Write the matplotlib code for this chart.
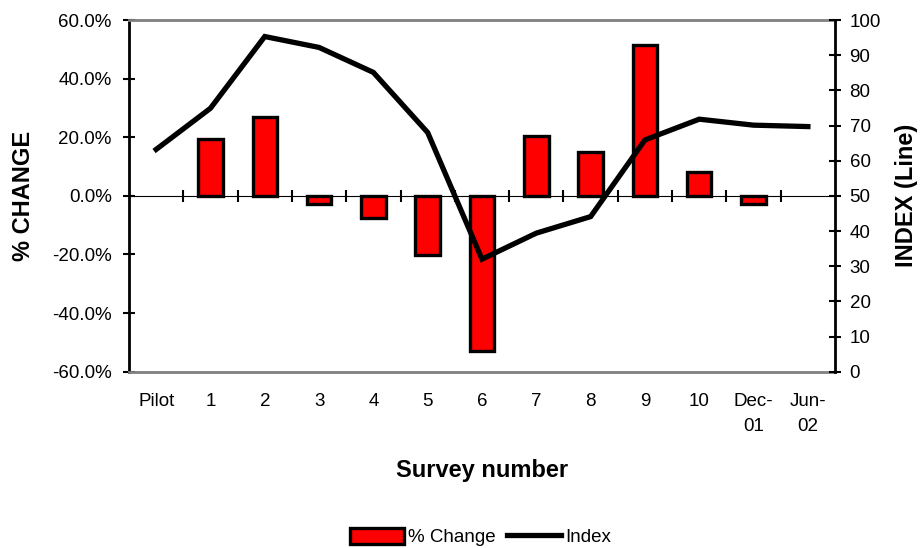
import matplotlib
matplotlib.use("Agg")
import matplotlib.pyplot as plt
from matplotlib.ticker import FixedLocator, FuncFormatter
from matplotlib.patches import Patch
from matplotlib.lines import Line2D
import numpy as np

plt.rcParams['font.family'] = ['Liberation Sans', 'DejaVu Sans']
plt.rcParams['axes.unicode_minus'] = False

# Survey data
surveys = ["Pilot", "1", "2", "3", "4", "5", "6", "7", "8", "9", "10", "Dec-\n01", "Jun-\n02"]
pct_change = [0.0, 19.3, 26.9, -2.7, -7.4, -20.1, -52.9, 20.5, 14.8, 51.4, 8.3, -2.7, 0.0]
index_values = [63.2, 74.9, 95.3, 92.2, 85.1, 68.0, 32.0, 39.4, 44.1, 65.9, 71.8, 70.1, 69.7]
pct_ticks = [-60, -40, -20, 0, 20, 40, 60]
index_ticks = list(range(0, 101, 10))

TICK_FS = 13.5
LABEL_FS = 17

fig = plt.figure(figsize=(9.24, 5.48), dpi=100)
ax = fig.add_axes([0.1396, 0.3217, 0.7641, 0.6418])
x = np.arange(len(surveys))

# bars with no change draw no outline
edge_w = [2.4 if v != 0 else 0 for v in pct_change]
ax.bar(x, pct_change, width=0.45, color="#ff0000", edgecolor="black", linewidth=edge_w, zorder=3)
ax.set_xlim(-0.5, len(surveys) - 0.5)
ax.set_ylim(-60, 60)
ax.yaxis.set_major_locator(FixedLocator(pct_ticks))
ax.yaxis.set_major_formatter(FuncFormatter(lambda v, p: f"{v:.1f}%"))
ax.tick_params(axis='y', direction='inout', length=9, width=1.5, labelsize=TICK_FS, pad=8)
ax.set_xticks(x)
ax.set_xticklabels(surveys)
ax.tick_params(axis='x', length=0, labelsize=TICK_FS, pad=15)
for lbl in ax.get_xticklabels():
    lbl.set_linespacing(1.65)
    lbl.set_verticalalignment('top')

for side in ('top', 'bottom'):
    ax.spines[side].set_color('#808080')
    ax.spines[side].set_linewidth(2)
ax.spines['left'].set_linewidth(2)
ax.spines['right'].set_visible(False)

# Zero line with category separators
zero_axis = ax.secondary_xaxis(0.5)
zero_axis.set_xticks(np.arange(0.5, len(surveys) - 1, 1.0))
zero_axis.set_xticklabels([])
zero_axis.tick_params(direction='inout', length=9, width=1.5)
zero_axis.spines['bottom'].set_linewidth(2)
zero_axis.spines['bottom'].set_zorder(4)

ax.set_ylabel("% CHANGE", fontsize=LABEL_FS, fontweight='bold', labelpad=12)
ax.set_xlabel("Survey number", fontsize=LABEL_FS, fontweight='bold', labelpad=17)

ax2 = ax.twinx()
ax2.plot(x, index_values, color="black", linewidth=3.8, solid_joinstyle='miter', zorder=5)
ax2.set_ylim(0, 100)
ax2.yaxis.set_major_locator(FixedLocator(index_ticks))
ax2.tick_params(axis='y', direction='inout', length=9, width=1.5, labelsize=TICK_FS, pad=6)
ax2.spines['right'].set_linewidth(2)
for side in ('top', 'bottom', 'left'):
    ax2.spines[side].set_visible(False)
ax2.set_ylabel("INDEX (Line)", fontsize=LABEL_FS, fontweight='bold', labelpad=10)

handles = [Patch(facecolor="#ff0000", edgecolor="black", linewidth=2.4),
           Line2D([0], [0], color="black", linewidth=3.8)]
fig.legend(handles, ["% Change", "Index"], loc='center', bbox_to_anchor=(0.52, 0.02),
           ncol=2, frameon=False, fontsize=TICK_FS, handlelength=2.9, handleheight=1.0,
           handletextpad=0.2, columnspacing=0.6, borderaxespad=0)

fig.savefig("out.png", dpi=100)
